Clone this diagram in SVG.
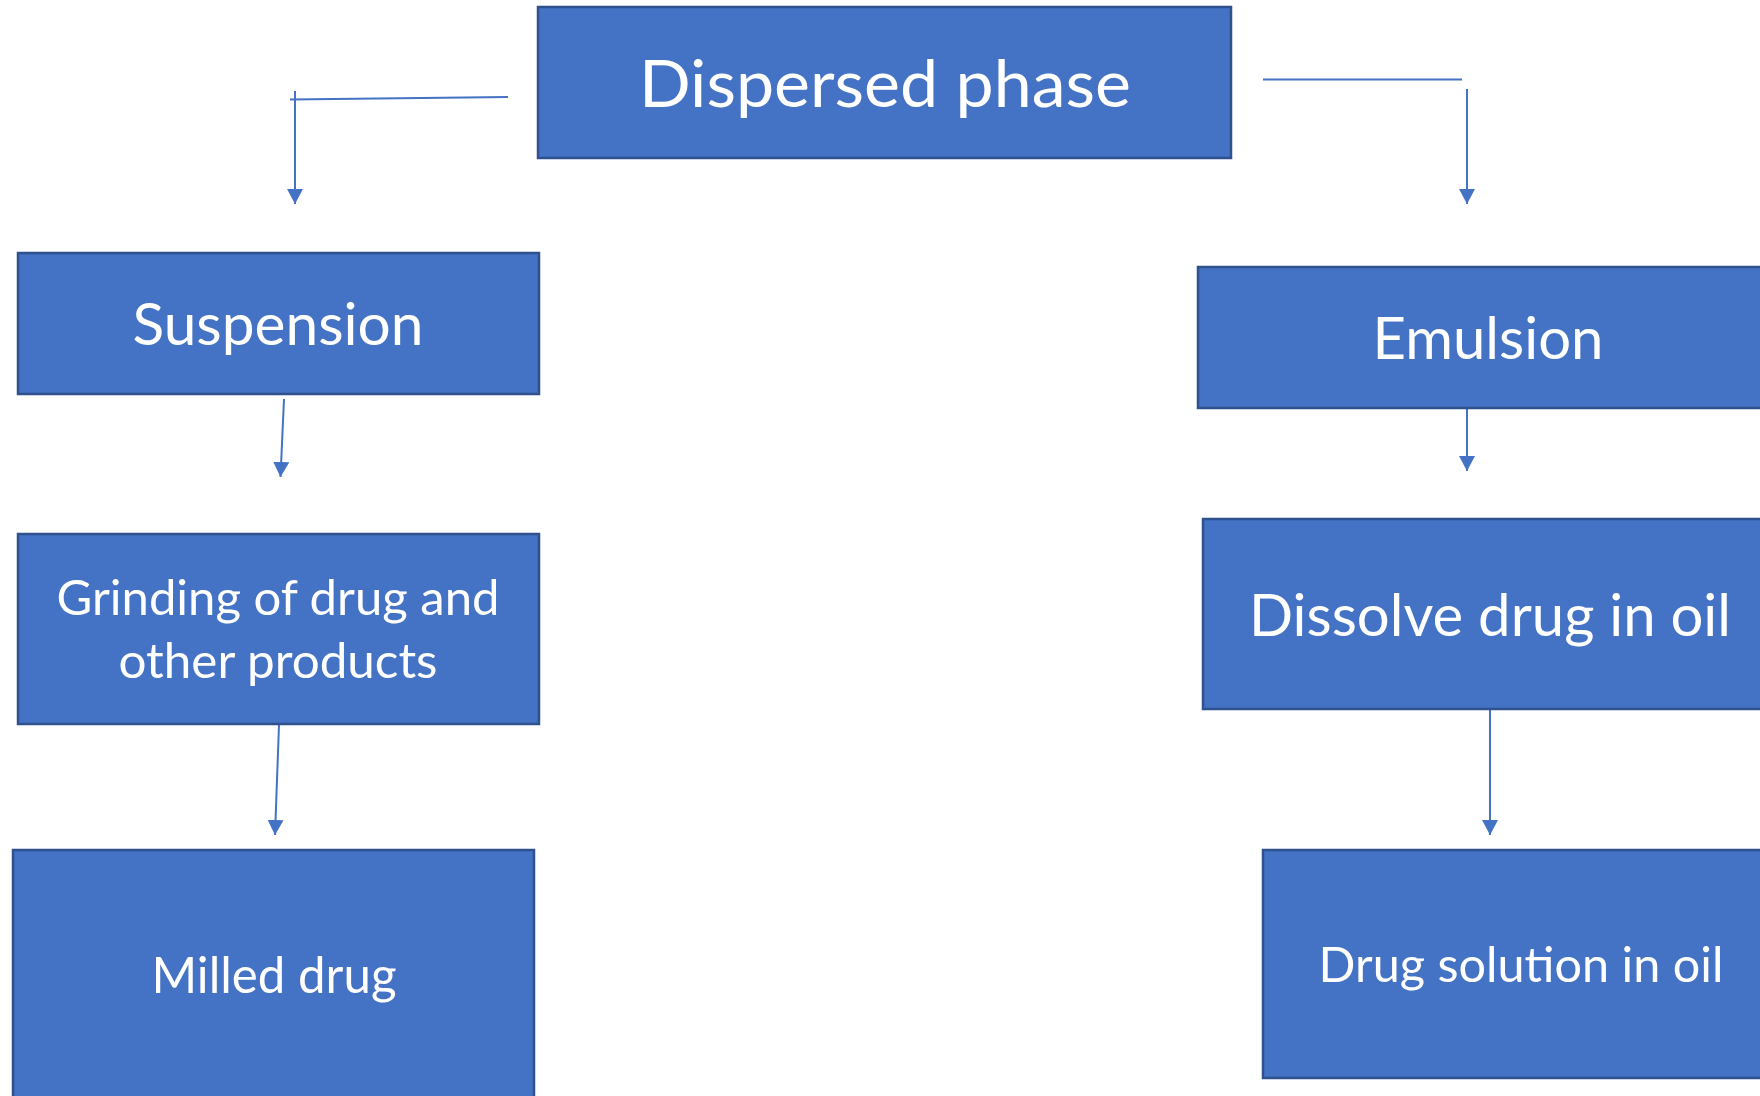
<svg xmlns="http://www.w3.org/2000/svg" width="1760" height="1096" viewBox="0 0 1760 1096">
<style>
.box{fill:#4472C4;stroke:#2F528F;stroke-width:2.5}
.t{fill:#FFFFFF;font-family:Lato,"Noto Sans","Liberation Sans",sans-serif;text-anchor:middle}
.c{stroke:#4472C4;stroke-width:2;fill:none}
</style>
<defs>
<marker id="ah" markerUnits="userSpaceOnUse" markerWidth="17" markerHeight="17" refX="15" refY="8" orient="auto">
<path d="M0,0 L15,8 L0,16 z" fill="#4472C4"/>
</marker>
</defs>
<rect width="1760" height="1096" fill="#FFFFFF"/>
<g id="connectors">
<line class="c" x1="508" y1="97" x2="290" y2="99.5"/>
<line class="c" x1="295" y1="91" x2="295" y2="204" marker-end="url(#ah)"/>
<line class="c" x1="1263" y1="79.5" x2="1462" y2="79.5"/>
<line class="c" x1="1467" y1="89" x2="1467" y2="204" marker-end="url(#ah)"/>
<line class="c" x1="284" y1="399" x2="280.5" y2="477" marker-end="url(#ah)"/>
<line class="c" x1="279" y1="725" x2="275" y2="835" marker-end="url(#ah)"/>
<line class="c" x1="1467" y1="409" x2="1467" y2="471" marker-end="url(#ah)"/>
<line class="c" x1="1490" y1="709" x2="1490" y2="835" marker-end="url(#ah)"/>
</g>
<g id="dispersed">
<rect class="box" x="538" y="7" width="693" height="151"/>
<text class="t" x="885" y="107" font-size="65" textLength="492" lengthAdjust="spacingAndGlyphs">Dispersed phase</text>
</g>
<g id="suspension">
<rect class="box" x="18" y="253" width="521" height="141"/>
<text class="t" x="278" y="345" font-size="59" textLength="291" lengthAdjust="spacingAndGlyphs">Suspension</text>
</g>
<g id="emulsion">
<rect class="box" x="1198" y="267" width="600" height="141"/>
<text class="t" x="1488" y="359" font-size="58" textLength="231" lengthAdjust="spacingAndGlyphs">Emulsion</text>
</g>
<g id="grinding">
<rect class="box" x="18" y="534" width="521" height="190"/>
<text class="t" x="278" y="615" font-size="49" textLength="443" lengthAdjust="spacingAndGlyphs">Grinding of drug and</text>
<text class="t" x="278" y="678" font-size="49" textLength="319" lengthAdjust="spacingAndGlyphs">other products</text>
</g>
<g id="dissolve">
<rect class="box" x="1203" y="519" width="600" height="190"/>
<text class="t" x="1490" y="636" font-size="58" textLength="482" lengthAdjust="spacingAndGlyphs">Dissolve drug in oil</text>
</g>
<g id="milled">
<rect class="box" x="13" y="850" width="521" height="270"/>
<text class="t" x="274" y="993" font-size="51" textLength="245" lengthAdjust="spacingAndGlyphs">Milled drug</text>
</g>
<g id="solution">
<rect class="box" x="1263" y="850" width="540" height="228"/>
<text class="t" x="1521" y="982" font-size="49" textLength="405" lengthAdjust="spacingAndGlyphs">Drug solution in oil</text>
</g>
</svg>
